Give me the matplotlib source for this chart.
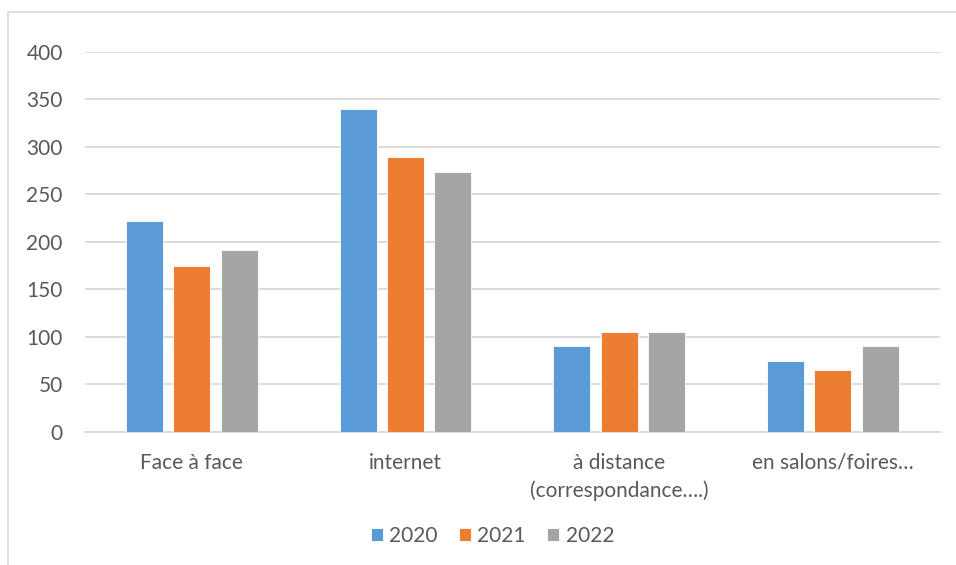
import numpy as np
import matplotlib.pyplot as plt
from matplotlib.patches import Rectangle

# categories and values
categories = ['Face à face', 'internet', 'à distance\n(correspondance….)', 'en salons/foires…']
years = ['2020', '2021', '2022']
v2020 = [222, 340, 90, 75]
v2021 = [175, 289, 105, 65]
v2022 = [192, 274, 105, 90]
colors = ['#5b9bd5', '#ed7d31', '#a5a5a5']

plt.rcParams['font.family'] = ['Lato', 'DejaVu Sans']

fig = plt.figure(figsize=(9.56, 5.65), dpi=100)
ax = fig.add_axes([0.0889, 0.2354, 0.894, 0.6726])

x = np.arange(len(categories))
width = 0.173
step = 0.222
for i, (vals, yr) in enumerate(zip([v2020, v2021, v2022], years)):
    ax.bar(x + (i - 1) * step, vals, width, color=colors[i], label=yr, zorder=3,
           edgecolor='white', linewidth=0.6)

fs = 15
ax.set_xlim(-0.5, len(categories) - 0.5)
ax.set_ylim(0, 400)
ax.set_yticks(range(0, 401, 50))
ax.set_xticks(x)
ax.set_xticklabels(categories, fontsize=fs, color='#595959', linespacing=1.45)
ax.tick_params(axis='y', labelsize=fs, labelcolor='#595959', length=0, pad=16)
ax.tick_params(axis='x', length=0, pad=15)
ax.grid(axis='y', color='#d9d9d9', linewidth=1.3, zorder=0)
for s in ['top', 'right', 'left']:
    ax.spines[s].set_visible(False)
ax.spines['bottom'].set_color('#d9d9d9')
ax.spines['bottom'].set_linewidth(1.3)

leg = fig.legend(loc='center', bbox_to_anchor=(0.515, 0.051), ncol=3, frameon=False,
                 fontsize=fs, handlelength=0.6, handleheight=0.6, handletextpad=0.3,
                 columnspacing=1.0)
for t in leg.get_texts():
    t.set_color('#595959')

# chart frame
fig.patches.append(Rectangle((8 / 956, -0.01), 1.0, 1 - 12 / 565 + 0.01,
                             transform=fig.transFigure, fill=False,
                             edgecolor='#d9d9d9', linewidth=1.2))

fig.savefig('out.png', dpi=100)
